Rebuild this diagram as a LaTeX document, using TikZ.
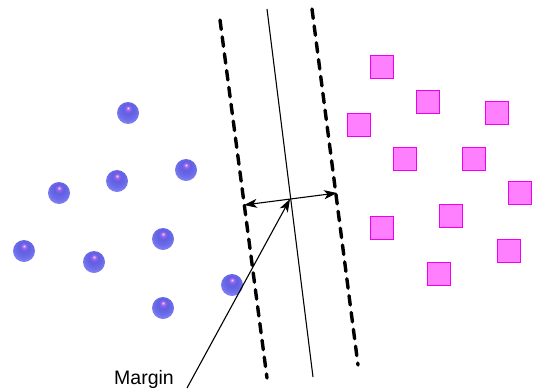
\documentclass[tikz,border=0pt]{standalone}
\usepackage{fontspec}
\setmainfont{Liberation Sans}
\usetikzlibrary{arrows.meta}
\pgfdeclareradialshading{blueball}{\pgfpoint{0bp}{12bp}}{%
  color(0bp)=(rgb,255:red,255;green,235;blue,255);
  color(2bp)=(rgb,255:red,220;green,140;blue,250);
  color(5bp)=(rgb,255:red,140;green,100;blue,235);
  color(11bp)=(rgb,255:red,95;green,95;blue,225);
  color(22bp)=(rgb,255:red,110;green,110;blue,235);
  color(34bp)=(rgb,255:red,145;green,145;blue,250);
  color(50bp)=(rgb,255:red,145;green,145;blue,250)}
\definecolor{sqfill}{RGB}{255,128,255}
\definecolor{sqdraw}{RGB}{240,0,240}
\tikzset{
  dashline/.style={line width=3.4pt, dash pattern=on 9.5pt off 7.5pt, line cap=round},
  midline/.style={line width=1.1pt},
  arr/.style={line width=1.1pt, -{Stealth[length=13pt,width=9pt,inset=3.5pt]}},
  darr/.style={line width=1.1pt, {Stealth[length=13pt,width=9pt,inset=3.5pt]}-{Stealth[length=13pt,width=9pt,inset=3.5pt]}},
  sq/.style={fill=sqfill, draw=sqdraw, line width=0.9pt, minimum size=23pt, inner sep=0pt, shape=rectangle},
}
\newcommand{\myball}[2]{\shade[shading=blueball] (#1,#2) circle (11);}
\begin{document}
\begin{tikzpicture}[x=1pt,y=-1pt]
\useasboundingbox (0,0) rectangle (534,388);
% lines
\coordinate (lt) at (220,20);
\coordinate (lb) at (267,378);
\coordinate (mt) at (267,9);
\coordinate (mb) at (313,377);
\coordinate (rt) at (312,9);
\coordinate (rb) at (358,365);
\draw[dashline] (lt) -- (lb);
\draw[midline] (mt) -- (mb);
\draw[dashline] (rt) -- (rb);
% balls
\myball{128}{113}
\myball{186}{170}
\myball{117}{181}
\myball{59}{193}
\myball{163}{239}
\myball{24}{251}
\myball{94}{262}
\myball{232}{285}
\myball{163}{308}
% squares
\foreach \x/\y [count=\i] in {381.5/66.5, 427.5/101.5, 497/113, 359/124.5, 405/159, 474/159, 520/193, 451/216, 381.5/228, 508.5/251, 439/274}
  \node[sq] (s\i) at (\x,\y) {};
% margin arrows
\coordinate (al) at (244,205);
\coordinate (ar) at (337,193);
\coordinate (c) at (290,199);
\draw[darr] (al) -- (ar);
\node[font=\fontsize{19.5}{22}\selectfont, anchor=base, inner sep=0pt] (margin) at (144,384) {Margin};
\coordinate (ms) at (187,388);
\draw[arr] (ms) -- (c);
\end{tikzpicture}
\end{document}
